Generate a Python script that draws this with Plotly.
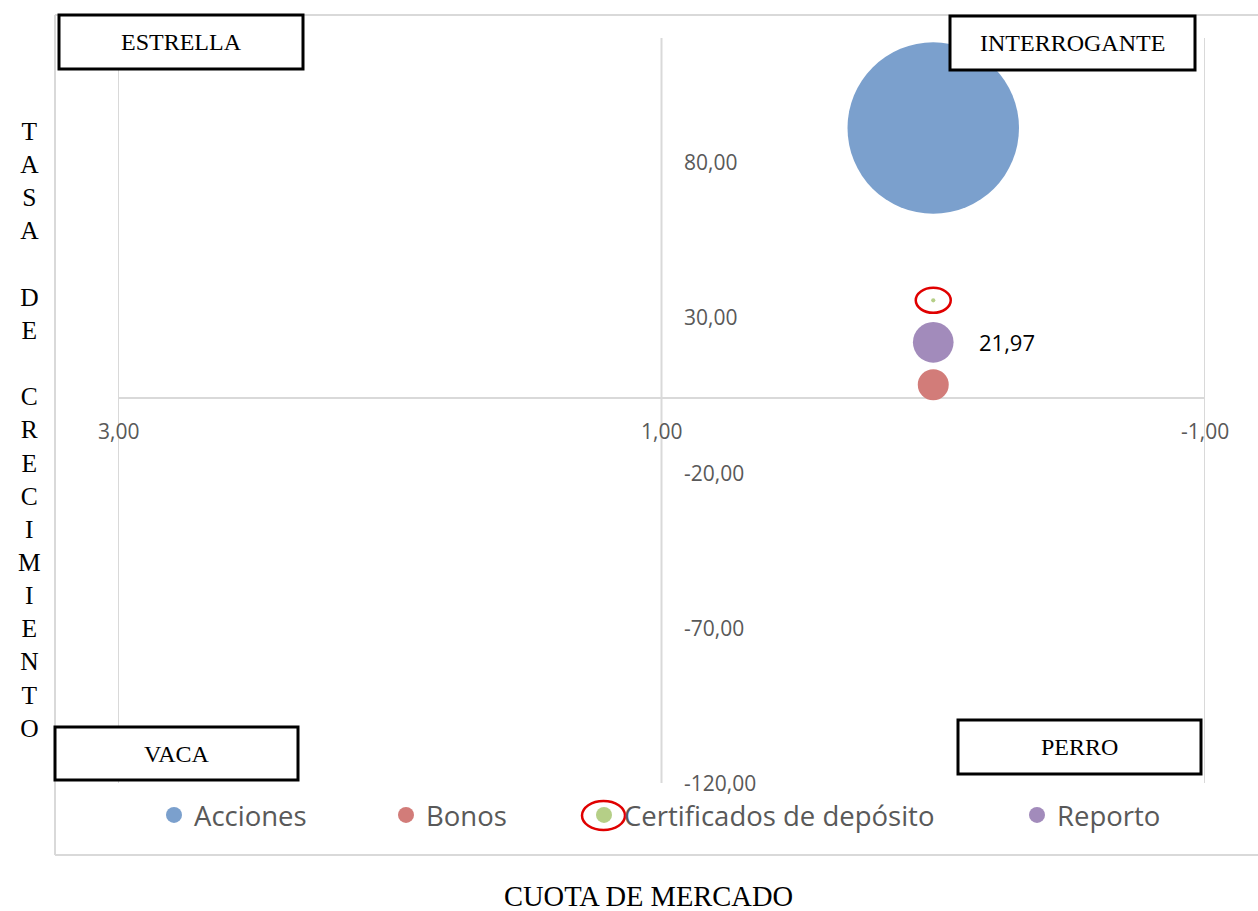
import plotly.graph_objects as go

# --- Datos de la matriz BCG ---
categorias = ["Acciones", "Bonos", "Certificados de depósito", "Reporto"]
cuota_mercado = [0.0, 0.0, 0.0, 0.0]
tasa_crecimiento = [91.0, 8.3, 35.5, 21.97]
participacion = [100.0, 3.26, 0.06, 5.62]
colores = ["#7BA0CD", "#D27C79", "#B5CF87", "#A28BBB"]

x_ticks = [3, 1, -1]
y_ticks = [80, 30, -20, -70, -120]
y_rango = [-120, 120]
cruce_x = 1.0   # el eje vertical corta en x = 1
cruce_y = 4.0   # el eje horizontal corta en y = 4

cuadrantes = ["ESTRELLA", "INTERROGANTE", "VACA", "PERRO"]

# --- Geometría de la figura (píxeles) ---
W, H = 1258, 911
L, R, T, B = 118, 1205, 38, 783


def px(X):
    return (X - L) / (R - L)


def py(Y):
    return (B - Y) / (B - T)


def fmt(v):
    return f"{v:,.2f}".replace(",", "X").replace(".", ",").replace("X", ".")


GRIS = "#d9d9d9"
TXT = "#595959"
SANS = "Open Sans, Liberation Sans, sans-serif"
SERIF = "Liberation Serif, Times New Roman, serif"

max_diam = 171.5
sizeref = 2.0 * max(participacion) / max_diam ** 2

fig = go.Figure()

# Burbujas
for cat, x, y, s, c in zip(categorias, cuota_mercado, tasa_crecimiento, participacion, colores):
    fig.add_trace(go.Scatter(
        x=[x], y=[y], mode="markers", name=cat, showlegend=False,
        marker=dict(size=[s], sizemode="area", sizeref=sizeref, sizemin=0,
                    color=c, opacity=1, line=dict(width=0)),
        hoverinfo="name+x+y",
    ))

# Entradas de leyenda (una leyenda por serie, al estilo Excel)
pos_leyenda = [174, 406, 604, 1037]
for i, (cat, c) in enumerate(zip(categorias, colores)):
    lg = "legend" if i == 0 else f"legend{i + 1}"
    fig.add_trace(go.Scatter(
        x=[None], y=[None], mode="markers", name=cat, legend=lg,
        marker=dict(size=17, color=c, line=dict(width=0)),
    ))

legend_cfg = dict(orientation="h", yanchor="middle", xanchor="left",
                  font=dict(family=SANS, size=27.5, color=TXT),
                  bgcolor="rgba(0,0,0,0)", itemclick=False, itemdoubleclick=False)
layout_legends = {}
for i, p in enumerate(pos_leyenda):
    key = "legend" if i == 0 else f"legend{i + 1}"
    layout_legends[key] = dict(legend_cfg, x=px(p - 20), y=py(815))

annotations = []

# Etiquetas del eje X (junto al eje horizontal)
for v in x_ticks:
    annotations.append(dict(x=v, y=cruce_y, xref="x", yref="y", text=fmt(v),
                            showarrow=False, yshift=-33, xanchor="center", yanchor="middle",
                            font=dict(family=SANS, size=21, color=TXT)))

# Etiquetas del eje Y (junto al eje vertical)
for v in y_ticks:
    annotations.append(dict(x=cruce_x, y=v, xref="x", yref="y", text=fmt(v),
                            showarrow=False, xshift=20, xanchor="left", yanchor="middle",
                            font=dict(family=SANS, size=21, color=TXT)))

# Etiqueta de dato de Reporto
i_rep = categorias.index("Reporto")
annotations.append(dict(x=cuota_mercado[i_rep], y=tasa_crecimiento[i_rep], xref="x", yref="y",
                        text=fmt(tasa_crecimiento[i_rep]), showarrow=False,
                        xanchor="left", yanchor="middle", xshift=44,
                        font=dict(family=SANS, size=22, color="#000000")))

# Títulos de ejes
titulo_y = "TASA DE CRECIMIENTO"
letras = "<br>".join(ch if ch != " " else "\u00a0" for ch in titulo_y)
annotations.append(dict(x=px(29), y=py(430), xref="paper", yref="paper", text=letras,
                        showarrow=False, xanchor="center", yanchor="middle", align="center",
                        font=dict(family=SERIF, size=25.5, color="#000000")))
annotations.append(dict(x=px(648), y=py(897), xref="paper", yref="paper", text="CUOTA DE MERCADO",
                        showarrow=False, xanchor="center", yanchor="middle",
                        font=dict(family=SERIF, size=28.5, color="#000000")))

shapes = []

# Borde del área del gráfico
for x0, y0, x1, y1 in [(55, 15, 1270, 15), (55, 15, 55, 855), (55, 855, 1270, 855)]:
    shapes.append(dict(type="line", xref="paper", yref="paper",
                       x0=px(x0), y0=py(y0), x1=px(x1), y1=py(y1),
                       line=dict(color=GRIS, width=2), layer="below"))

# Líneas verticales de división (incluye los bordes del rango)
for v in x_ticks:
    shapes.append(dict(type="line", xref="x", yref="y", x0=v, x1=v,
                       y0=y_rango[0], y1=y_rango[1], line=dict(color=GRIS, width=2), layer="below"))

# Eje horizontal que corta en cruce_y
shapes.append(dict(type="line", xref="x", yref="y", x0=x_ticks[0], x1=x_ticks[-1],
                   y0=cruce_y, y1=cruce_y, line=dict(color=GRIS, width=2), layer="below"))

# Cuadros de los cuadrantes
cajas = [(59, 15, 303, 69), (950, 16, 1195, 70), (55, 727, 298, 780), (958, 720, 1201, 774)]
for txt, (x0, y0, x1, y1) in zip(cuadrantes, cajas):
    shapes.append(dict(type="rect", xref="paper", yref="paper",
                       x0=px(x0), y0=py(y0), x1=px(x1), y1=py(y1),
                       fillcolor="white", line=dict(color="#000000", width=3), layer="above"))
    annotations.append(dict(x=px((x0 + x1) / 2), y=py((y0 + y1) / 2), xref="paper", yref="paper",
                            text=txt, showarrow=False, xanchor="center", yanchor="middle",
                            font=dict(family=SERIF, size=24, color="#000000")))

# Resaltado de Certificados de depósito
i_cd = categorias.index("Certificados de depósito")
cx, cy = cuota_mercado[i_cd], tasa_crecimiento[i_cd]
dx = 17.5 / (R - L) * (x_ticks[0] - x_ticks[-1])
dy = 12.5 / (B - T) * (y_rango[1] - y_rango[0])
shapes.append(dict(type="circle", xref="x", yref="y", x0=cx - dx, x1=cx + dx,
                   y0=cy - dy, y1=cy + dy, line=dict(color="#E00000", width=2.5), layer="above"))
shapes.append(dict(type="circle", xref="paper", yref="paper", x0=px(582), x1=px(625),
                   y0=py(801), y1=py(830), line=dict(color="#E00000", width=2.5), layer="above"))

fig.update_layout(
    width=W, height=H,
    margin=dict(l=L, r=W - R, t=T, b=H - B, pad=0),
    paper_bgcolor="white", plot_bgcolor="white",
    xaxis=dict(range=[x_ticks[0], x_ticks[-1]], showticklabels=False,
               showgrid=False, zeroline=False, showline=False, ticks=""),
    yaxis=dict(range=y_rango, showticklabels=False, showgrid=False, zeroline=False,
               showline=False, ticks=""),
    annotations=annotations,
    shapes=shapes,
    **layout_legends,
)

fig.write_html("out.html")
